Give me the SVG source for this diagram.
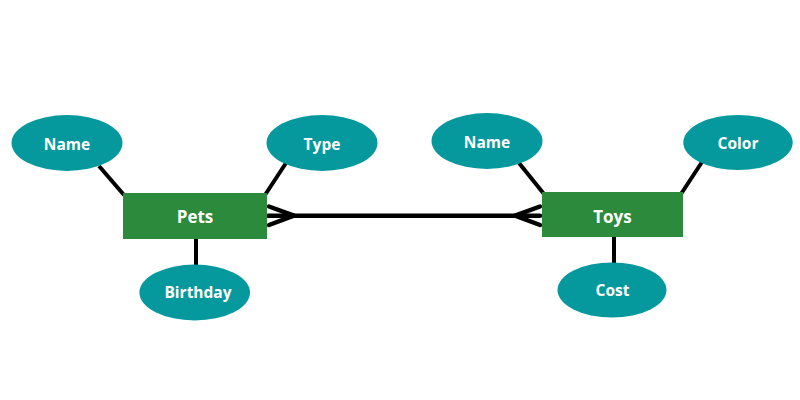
<svg xmlns="http://www.w3.org/2000/svg" width="800" height="400" viewBox="0 0 800 400">
  <style>
    .attr { fill: #05989c; }
    .ent { fill: #2b8a3b; }
    .lbl { fill: #ffffff; font-family: "Open Sans", "Noto Sans", sans-serif; font-weight: bold; text-anchor: middle; }
    .a { font-size: 15.5px; }
    .e { font-size: 17px; }
    .ln { stroke: #000000; stroke-width: 4; fill: none; }
    .rel { stroke: #000000; stroke-width: 4.5; fill: none; stroke-linecap: round; stroke-linejoin: round; }
  </style>
  <rect width="800" height="400" fill="#ffffff"/>
  <g id="connectors">
    <line class="ln" x1="99" y1="166" x2="124" y2="195"/>
    <line class="ln" x1="286" y1="163" x2="265" y2="195"/>
    <line class="ln" x1="196" y1="238" x2="196" y2="265"/>
    <line class="ln" x1="519" y1="163" x2="544" y2="194"/>
    <line class="ln" x1="702" y1="162" x2="681" y2="194"/>
    <line class="ln" x1="614" y1="236" x2="614" y2="263"/>
    <line class="rel" x1="268" y1="215.7" x2="540" y2="215.7"/>
    <polyline class="rel" points="269,206.5 294,215.7 269,225"/>
    <polyline class="rel" points="540,206.5 515,215.7 540,225"/>
  </g>
  <g id="pets">
    <rect class="ent" x="123" y="193" width="144" height="46"/>
    <text class="lbl e" x="195" y="222.5">Pets</text>
  </g>
  <g id="pets-name">
    <ellipse class="attr" cx="67" cy="143" rx="55.5" ry="28"/>
    <text class="lbl a" x="67" y="149.5">Name</text>
  </g>
  <g id="pets-type">
    <ellipse class="attr" cx="322" cy="143" rx="55.5" ry="28"/>
    <text class="lbl a" x="322" y="149.5">Type</text>
  </g>
  <g id="pets-birthday">
    <ellipse class="attr" cx="194.7" cy="292.5" rx="55.3" ry="28"/>
    <text class="lbl a" x="198" y="297.7">Birthday</text>
  </g>
  <g id="toys">
    <rect class="ent" x="542" y="192" width="141" height="45"/>
    <text class="lbl e" x="612.5" y="222.5">Toys</text>
  </g>
  <g id="toys-name">
    <ellipse class="attr" cx="487" cy="141" rx="55.5" ry="28"/>
    <text class="lbl a" x="487" y="147.5">Name</text>
  </g>
  <g id="toys-color">
    <ellipse class="attr" cx="738" cy="142.5" rx="54.7" ry="27.5"/>
    <text class="lbl a" x="738" y="148.5">Color</text>
  </g>
  <g id="toys-cost">
    <ellipse class="attr" cx="612" cy="290" rx="54.5" ry="27.5"/>
    <text class="lbl a" x="612.5" y="296">Cost</text>
  </g>
</svg>
